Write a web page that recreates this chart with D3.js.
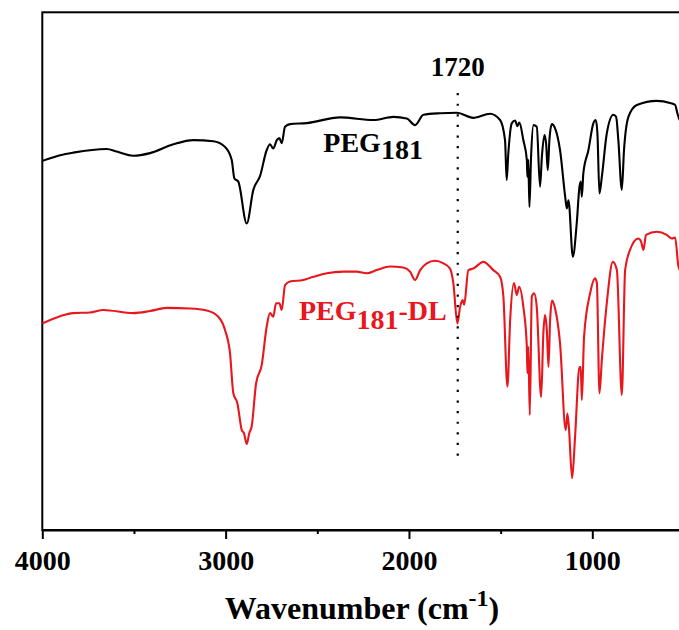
<!DOCTYPE html>
<html>
<head>
<meta charset="utf-8">
<script src="https://cdn.jsdelivr.net/npm/d3@7"></script>
<style>
  html, body { margin: 0; padding: 0; background: #fff; }
  svg { display: block; font-family: 'Liberation Serif', 'Times New Roman', serif; font-weight: bold; }
</style>
</head>
<body>
<svg id="chart"></svg>
<script>
// FTIR spectra, wavenumber (cm-1) vs transmittance (a.u.)
const pegWave = [4000, 3903, 3831, 3649, 3594, 3504, 3412, 3285, 3176, 3067, 3003, 2967, 2952, 2931, 2885, 2849, 2812, 2776, 2758, 2740, 2721, 2707, 2694, 2676, 2649, 2558, 2376, 2194, 2085, 2012, 1967, 1921, 1830, 1739, 1649, 1558, 1503, 1476, 1467, 1458, 1439, 1421, 1409, 1398, 1376, 1357, 1354, 1349, 1343, 1334, 1321, 1303, 1285, 1275, 1261, 1252, 1243, 1234, 1221, 1203, 1176, 1148, 1139, 1130, 1106, 1085, 1070, 1063, 1057, 1049, 1021, 994, 981, 972, 961, 948, 921, 885, 870, 858, 839, 827, 803, 757, 648, 576, 548, 536, 527, 500];
const pegT = [71.3, 72.4, 72.9, 73.6, 73.1, 72.3, 72.8, 74.5, 75.3, 75.1, 74.0, 71.5, 67.9, 67.3, 59.2, 65.7, 68.4, 73.4, 74.5, 73.7, 75.3, 75.7, 74.7, 77.9, 78.4, 78.6, 79.7, 79.2, 79.8, 79.5, 78.2, 80.2, 80.5, 80.6, 79.6, 80.4, 79.2, 75.3, 67.6, 72.8, 78.6, 79.1, 78.0, 78.7, 75.3, 71.5, 68.2, 71.5, 62.4, 72.1, 78.2, 77.9, 66.3, 72.1, 76.3, 74.7, 69.5, 75.3, 78.4, 77.6, 73.4, 64.4, 62.1, 63.7, 52.8, 59.2, 66.3, 67.3, 64.4, 68.9, 73.4, 78.6, 79.2, 76.6, 65.0, 68.2, 76.6, 80.2, 79.8, 75.3, 65.7, 73.4, 79.8, 82.1, 82.9, 82.5, 82.1, 80.5, 79.5, 78.2];

const dlWave = [4000, 3903, 3831, 3740, 3667, 3504, 3412, 3321, 3194, 3103, 3040, 3003, 2976, 2958, 2936, 2912, 2900, 2885, 2871, 2858, 2834, 2803, 2776, 2758, 2740, 2725, 2707, 2694, 2676, 2649, 2576, 2522, 2448, 2358, 2285, 2230, 2176, 2103, 2031, 1994, 1967, 1939, 1903, 1858, 1812, 1776, 1758, 1736, 1721, 1707, 1699, 1676, 1649, 1594, 1540, 1503, 1485, 1463, 1448, 1427, 1412, 1399, 1376, 1357, 1354, 1349, 1341, 1330, 1317, 1303, 1279, 1267, 1258, 1248, 1239, 1230, 1219, 1203, 1176, 1145, 1136, 1128, 1110, 1094, 1070, 1063, 1057, 1045, 1012, 985, 975, 961, 948, 921, 888, 866, 839, 821, 794, 749, 734, 721, 707, 648, 594, 566, 548, 530, 500];
const dlT = [39.9, 41.3, 41.9, 42.0, 42.5, 41.9, 42.3, 42.9, 42.8, 42.4, 41.2, 38.6, 34.1, 26.4, 24.5, 19.3, 18.7, 16.6, 18.7, 20.0, 28.3, 31.9, 39.3, 41.9, 41.2, 43.8, 43.8, 42.5, 47.3, 48.0, 48.3, 48.9, 49.6, 49.9, 49.9, 49.6, 50.2, 50.9, 50.7, 49.9, 48.3, 50.2, 51.5, 52.0, 51.5, 50.5, 47.7, 39.9, 43.1, 44.4, 43.5, 50.2, 50.5, 51.8, 50.2, 48.9, 45.1, 27.7, 40.6, 47.7, 45.4, 47.0, 43.1, 35.4, 30.3, 35.4, 22.2, 45.1, 45.7, 43.1, 25.7, 38.0, 41.5, 38.6, 31.5, 40.6, 44.3, 42.8, 36.1, 19.3, 22.5, 20.0, 10.0, 18.0, 31.5, 31.5, 25.1, 37.3, 45.7, 48.6, 47.7, 26.4, 32.8, 43.8, 51.8, 50.2, 26.1, 50.2, 54.1, 56.3, 55.7, 54.1, 57.0, 57.6, 57.0, 56.3, 56.5, 50.9, 49.0];

const majorTicks = [4000, 3000, 2000, 1000];
const minorTicks = [3500, 2500, 1500, 500];
const markerWave = 1734;
const markerLabel = '1720';

const width = 679;
const height = 630;
const plot = { left: 42.3, top: 12.3, right: 702.3, bottom: 530 };
const red = '#e8161d';

const svg = d3.select('#chart')
    .attr('width', width)
    .attr('height', height);

const x = d3.scaleLinear()
    .domain([4000, 400])
    .range([plot.left, plot.right]);
const y = d3.scaleLinear()
    .domain([0, 100])
    .range([plot.bottom, plot.top]);

/* frame */
svg.append('rect')
    .attr('x', plot.left)
    .attr('y', plot.top)
    .attr('width', plot.right - plot.left)
    .attr('height', plot.bottom - plot.top)
    .attr('fill', 'none')
    .attr('stroke', '#000')
    .attr('stroke-width', 2);

/* spectra */
const line = d3.line()
    .x(d => x(d[0]))
    .y(d => y(d[1]))
    .curve(d3.curveMonotoneX);

svg.append('path')
    .datum(d3.zip(pegWave, pegT))
    .attr('fill', 'none')
    .attr('stroke', '#000')
    .attr('stroke-width', 2.1)
    .attr('stroke-linejoin', 'round')
    .attr('d', line);

svg.append('path')
    .datum(d3.zip(dlWave, dlT))
    .attr('fill', 'none')
    .attr('stroke', red)
    .attr('stroke-width', 2.1)
    .attr('stroke-linejoin', 'round')
    .attr('d', line);

/* 1720 marker */
svg.append('line')
    .attr('x1', x(markerWave))
    .attr('x2', x(markerWave))
    .attr('y1', y(84.4))
    .attr('y2', y(12.9))
    .attr('stroke', '#000')
    .attr('stroke-width', 2.2)
    .attr('stroke-dasharray', '2.2 8.4');

svg.append('text')
    .attr('x', x(markerWave))
    .attr('y', y(87.7))
    .attr('text-anchor', 'middle')
    .style('font-size', '27px')
    .text(markerLabel);

/* labels */
const pegLabel = svg.append('text')
    .attr('x', x(2467))
    .attr('y', y(73.1))
    .style('font-size', '28px')
    .attr('fill', '#000');
pegLabel.append('tspan').text('PEG');
pegLabel.append('tspan').attr('dy', 7).text('181');

const dlLabel = svg.append('text')
    .attr('x', x(2600))
    .attr('y', y(40.6))
    .style('font-size', '28px')
    .attr('fill', red);
dlLabel.append('tspan').text('PEG');
dlLabel.append('tspan').attr('dy', 9).text('181');
dlLabel.append('tspan').attr('dy', -9).text('-DL');

/* x axis */
const xAxis = d3.axisBottom(x)
    .tickValues(majorTicks)
    .tickSizeInner(9)
    .tickSizeOuter(0)
    .tickFormat(d3.format('d'));

const gx = svg.append('g')
    .attr('transform', `translate(0, ${plot.bottom})`)
    .call(xAxis);
gx.select('.domain').attr('stroke-width', 2);
gx.selectAll('.tick line').attr('stroke-width', 2);
gx.selectAll('.tick text')
    .attr('y', 40)
    .attr('dy', null)
    .style('font-size', '28px')
    .style('font-family', "'Liberation Serif', 'Times New Roman', serif")
    .style('font-weight', 'bold')
    .attr('fill', '#000');

const minorAxis = d3.axisBottom(x)
    .tickValues(minorTicks)
    .tickSizeInner(4)
    .tickSizeOuter(0)
    .tickFormat('');
const gm = svg.append('g')
    .attr('transform', `translate(0, ${plot.bottom})`)
    .call(minorAxis);
gm.select('.domain').remove();
gm.selectAll('.tick line').attr('stroke-width', 2);

/* axis title */
const title = svg.append('text')
    .attr('x', 362)
    .attr('y', 619)
    .attr('text-anchor', 'middle')
    .style('font-size', '32px');
title.append('tspan').text('Wavenumber (cm');
title.append('tspan').attr('dy', -13).style('font-size', '24px').text('-1');
title.append('tspan').attr('dy', 13).text(')');
</script>
</body>
</html>
